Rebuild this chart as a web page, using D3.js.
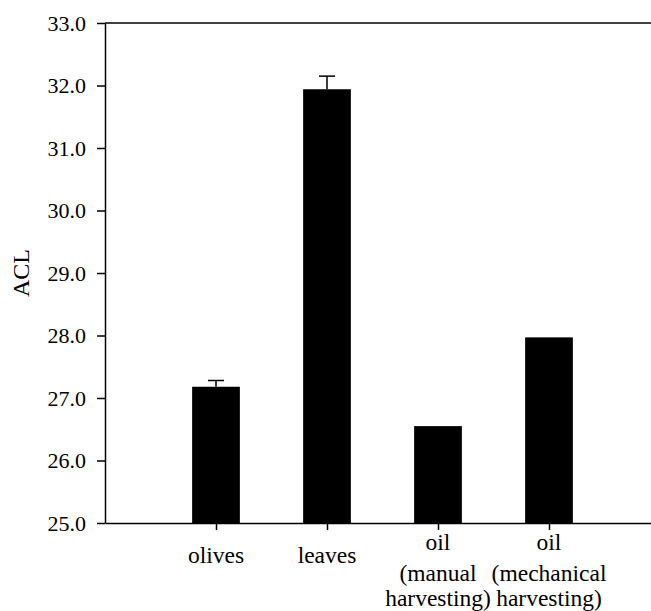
<!DOCTYPE html>
<html>
<head>
<meta charset="utf-8">
<script src="https://d3js.org/d3.v7.min.js"></script>
<style>
  body { margin: 0; background: #fff; }
  .axis .domain, .axis line { stroke: #000; stroke-width: 1.5px; }
</style>
</head>
<body>
<script>
// data
const categories = ['olives', 'leaves', 'oil manual', 'oil mechanical'];
const labelLines = [['olives'], ['leaves'], ['oil', '(manual', 'harvesting)'], ['oil', '(mechanical', 'harvesting)']];
const acl = [27.18, 31.94, 26.55, 27.97];
const sem = [0.10, 0.21, 0, 0];
const yTicks = [25, 26, 27, 28, 29, 30, 31, 32, 33];

const serif = '"Liberation Serif"';
const lineOffsets = [27, 57.5, 83]; // baselines below the axis for wrapped labels

const width = 651, height = 611;
const margin = {top: 23, right: -9, bottom: 88, left: 105};
const innerW = width - margin.left - margin.right;
const innerH = height - margin.top - margin.bottom;

const svg = d3.select('body').append('svg')
  .attr('width', width).attr('height', height);
const g = svg.append('g').attr('transform', `translate(${margin.left},${margin.top})`);

const x = d3.scalePoint().domain(categories).range([0, innerW]).padding(1);
const y = d3.scaleLinear().domain([25, 33]).range([innerH, 0]);
const barW = x.step() * 0.43;

const rows = categories.map((c, i) => ({cat: c, v: acl[i], se: sem[i], lines: labelLines[i]}));

g.selectAll('rect.bar').data(rows).enter().append('rect')
  .attr('class', 'bar')
  .attr('x', d => x(d.cat) - barW / 2)
  .attr('y', d => y(d.v))
  .attr('width', barW)
  .attr('height', d => innerH - y(d.v))
  .attr('fill', '#000');

// error bars (upper only)
const eb = g.selectAll('g.err').data(rows.filter(d => d.se > 0)).enter().append('g').attr('class', 'err');
eb.append('line')
  .attr('x1', d => x(d.cat)).attr('x2', d => x(d.cat))
  .attr('y1', d => y(d.v)).attr('y2', d => y(d.v + d.se))
  .attr('stroke', '#000').attr('stroke-width', 1.5);
eb.append('line')
  .attr('x1', d => x(d.cat) - 8).attr('x2', d => x(d.cat) + 8)
  .attr('y1', d => y(d.v + d.se)).attr('y2', d => y(d.v + d.se))
  .attr('stroke', '#000').attr('stroke-width', 1.5);

// y axis
g.append('g').attr('class', 'axis')
  .call(d3.axisLeft(y).tickValues(yTicks).tickFormat(d3.format('.1f')).tickSize(8).tickSizeOuter(0).tickPadding(11))
  .attr('font-family', serif)
  .attr('font-size', 22)
  .selectAll('text')
  .attr('font-family', serif)
  .attr('fill', '#000');

// x axis
g.append('g').attr('class', 'axis')
  .attr('transform', `translate(0,${innerH})`)
  .call(d3.axisBottom(x).tickSize(7).tickSizeOuter(0).tickFormat(''));

// category labels (multi-line)
const lab = g.selectAll('text.cat').data(rows).enter().append('text')
  .attr('class', 'cat')
  .attr('text-anchor', 'middle')
  .attr('font-family', serif)
  .attr('font-size', 23.5)
  .attr('transform', d => `translate(${x(d.cat)},${innerH})`);
lab.selectAll('tspan').data(d => d.lines.map((t, i) => ({t, i, n: d.lines.length}))).enter().append('tspan')
  .attr('x', 0)
  .attr('y', d => d.n === 1 ? 39.5 : lineOffsets[d.i])
  .text(d => d.t);

// top frame line
g.append('line')
  .attr('x1', 0).attr('x2', innerW)
  .attr('y1', 0).attr('y2', 0)
  .attr('stroke', '#000').attr('stroke-width', 1.5);

// y label
svg.append('text')
  .attr('transform', `translate(29,${margin.top + y(29)}) rotate(-90)`)
  .attr('text-anchor', 'middle')
  .attr('font-family', serif)
  .attr('font-size', 24)
  .text('ACL');
</script>
</body>
</html>
